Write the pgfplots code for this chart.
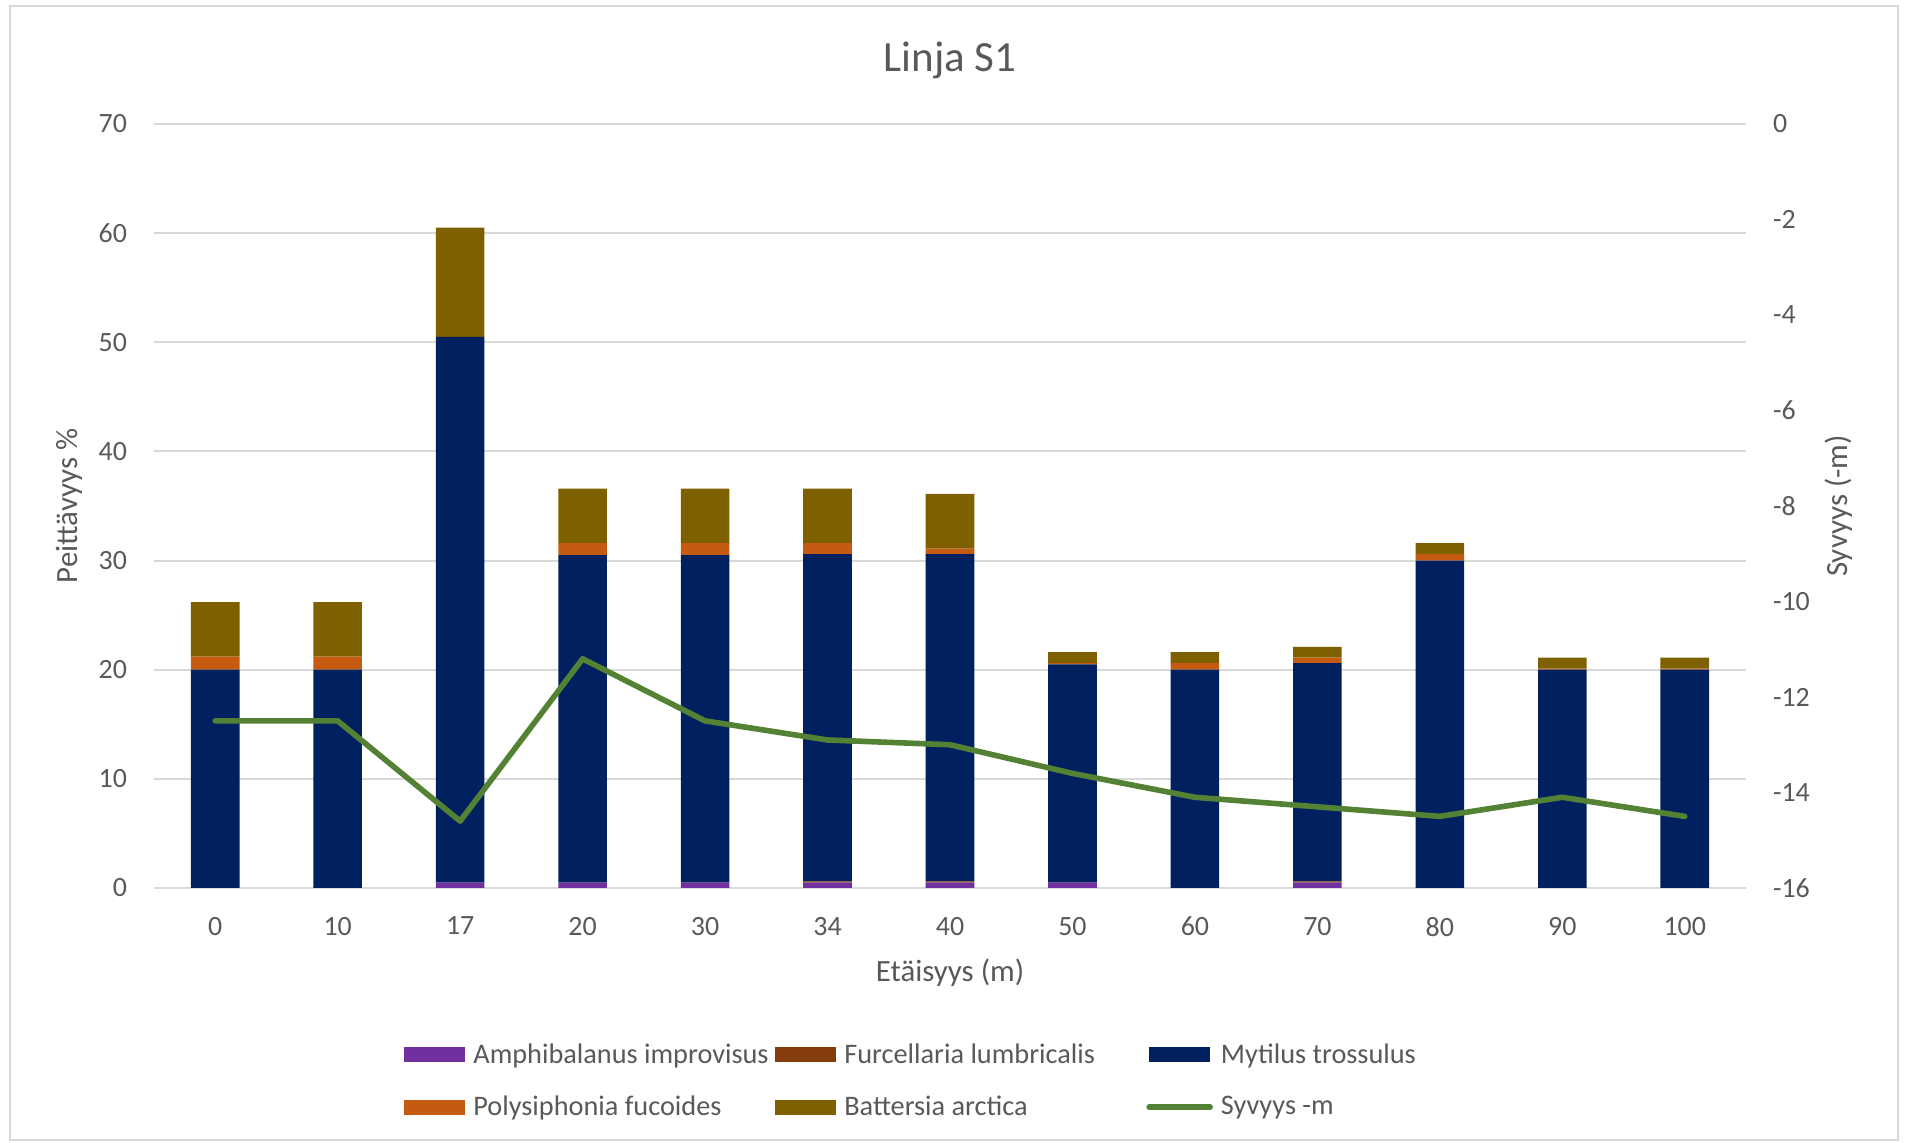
\documentclass[border=0pt]{standalone}
\usepackage{fontspec}
\setmainfont{Carlito}
\usepackage{pgfplots}
\pgfplotsset{compat=1.18}
\definecolor{amphi}{HTML}{7030A0}
\definecolor{furc}{HTML}{843C0C}
\definecolor{myt}{HTML}{002060}
\definecolor{poly}{HTML}{C55A11}
\definecolor{batt}{HTML}{7F6000}
\definecolor{linegreen}{HTML}{548235}
\definecolor{gridgray}{HTML}{D9D9D9}
\definecolor{txtgray}{HTML}{595959}
\pgfplotsset{
  boxlegend/.style={legend image code/.code={\fill[##1] (0bp,-3.75bp) rectangle (30.5bp,3.75bp);}},
  linelegend/.style={legend image code/.code={\draw[##1] (0bp,0bp) -- (30.5bp,0bp);}},
}
\begin{document}
\begin{tikzpicture}
\useasboundingbox (0,0) rectangle (952.5bp,571.5bp);
\draw[gridgray, line width=1bp] (4.9bp,1.5bp) rectangle (949bp,568.5bp);
\begin{axis}[
  at={(77bp,127.5bp)}, anchor=south west,
  scale only axis, width=796bp, height=382bp,
  xmin=-0.5, xmax=12.5, ymin=0, ymax=70,
  ybar stacked, bar width=24.3bp,
  xtick={0,...,12},
  xticklabels={0,10,17,20,30,34,40,50,60,70,80,90,100},
  ytick={0,10,...,70},
  ymajorgrids, grid style={gridgray, line width=1bp},
  axis x line*=bottom, axis y line*=left,
  x axis line style={gridgray, line width=1bp, -},
  y axis line style={draw=none},
  major tick length=0pt,
  tick label style={font=\fontsize{14}{16}\selectfont, text=txtgray},
  /pgf/number format/assume math mode=true,
  yticklabel style={anchor=east, xshift=-10bp},
  xticklabel style={anchor=north, yshift=-11bp},
  title={Linja S1},
  title style={font=\fontsize{21.6}{25}\selectfont, text=txtgray, at={(axis description cs:0.5,1)}, anchor=center, yshift=26bp},
  xlabel={Etäisyys (m)},
  xlabel style={font=\fontsize{15.5}{18}\selectfont, text=txtgray, at={(axis description cs:0.5,0)}, anchor=center, yshift=-42.5bp},
  ylabel={Peittävyys \%},
  ylabel style={font=\fontsize{15.5}{18}\selectfont, text=txtgray, at={([xshift=-42.5bp]axis description cs:0,0.5)}, anchor=center, rotate=0},
]
\addplot[fill=amphi, draw=none] coordinates {(0,0) (1,0) (2,0.5) (3,0.5) (4,0.5) (5,0.5) (6,0.5) (7,0.5) (8,0) (9,0.5) (10,0) (11,0) (12,0)};
\addplot[fill=furc, draw=none] coordinates {(0,0) (1,0) (2,0) (3,0) (4,0) (5,0.1) (6,0.1) (7,0) (8,0) (9,0.1) (10,0) (11,0) (12,0)};
\addplot[fill=myt, draw=none] coordinates {(0,20) (1,20) (2,50) (3,30) (4,30) (5,30) (6,30) (7,20) (8,20) (9,20) (10,30) (11,20) (12,20)};
\addplot[fill=poly, draw=none] coordinates {(0,1.2) (1,1.2) (2,0) (3,1.1) (4,1.1) (5,1) (6,0.5) (7,0.1) (8,0.6) (9,0.5) (10,0.6) (11,0.1) (12,0.1)};
\addplot[fill=batt, draw=none] coordinates {(0,5) (1,5) (2,10) (3,5) (4,5) (5,5) (6,5) (7,1) (8,1) (9,1) (10,1) (11,1) (12,1)};
\end{axis}
\begin{axis}[
  at={(77bp,127.5bp)}, anchor=south west,
  scale only axis, width=796bp, height=382bp,
  xmin=-0.5, xmax=12.5, ymin=-16, ymax=0,
  ytick={-16,-14,...,0},
  yticklabels={-16,-14,-12,-10,-8,-6,-4,-2,0},
  axis y line*=right, axis x line=none,
  y axis line style={draw=none},
  major tick length=0pt,
  tick label style={font=\fontsize{14}{16}\selectfont, text=txtgray},
  yticklabel style={anchor=west, xshift=10bp},
  ylabel={Syvyys (-m)},
  ylabel style={font=\fontsize{15.5}{18}\selectfont, text=txtgray, at={([xshift=46.5bp]axis description cs:1,0.5)}, anchor=center, rotate=0},
  legend columns=3,
  legend style={at={(122bp,-73.5bp)}, anchor=north west, draw=none, fill=none,
    font=\fontsize{14.2}{16}\selectfont, text=txtgray,
    cells={anchor=west}, row sep=11bp,
    /tikz/every odd column/.append style={column sep=2bp},
    /tikz/every even column/.append style={column sep=1bp}},
]
\addlegendimage{boxlegend, fill=amphi, draw=none}
\addlegendentry{\makebox[148bp][l]{Amphibalanus improvisus}}
\addlegendimage{boxlegend, fill=furc, draw=none}
\addlegendentry{\makebox[148bp][l]{Furcellaria lumbricalis}}
\addlegendimage{boxlegend, fill=myt, draw=none}
\addlegendentry{\makebox[148bp][l]{Mytilus trossulus}}
\addlegendimage{boxlegend, fill=poly, draw=none}
\addlegendentry{\makebox[148bp][l]{Polysiphonia fucoides}}
\addlegendimage{boxlegend, fill=batt, draw=none}
\addlegendentry{\makebox[148bp][l]{Battersia arctica}}
\addlegendimage{linelegend, linegreen, line width=2.8bp, line cap=round}
\addlegendentry{\makebox[148bp][l]{Syvyys -m}}
\addplot[linegreen, line width=2.8bp, line join=round, line cap=round, mark=none, forget plot] coordinates {(0,-12.5) (1,-12.5) (2,-14.6) (3,-11.2) (4,-12.5) (5,-12.9) (6,-13.0) (7,-13.6) (8,-14.1) (9,-14.3) (10,-14.5) (11,-14.1) (12,-14.5)};
\end{axis}
\end{tikzpicture}
\end{document}
